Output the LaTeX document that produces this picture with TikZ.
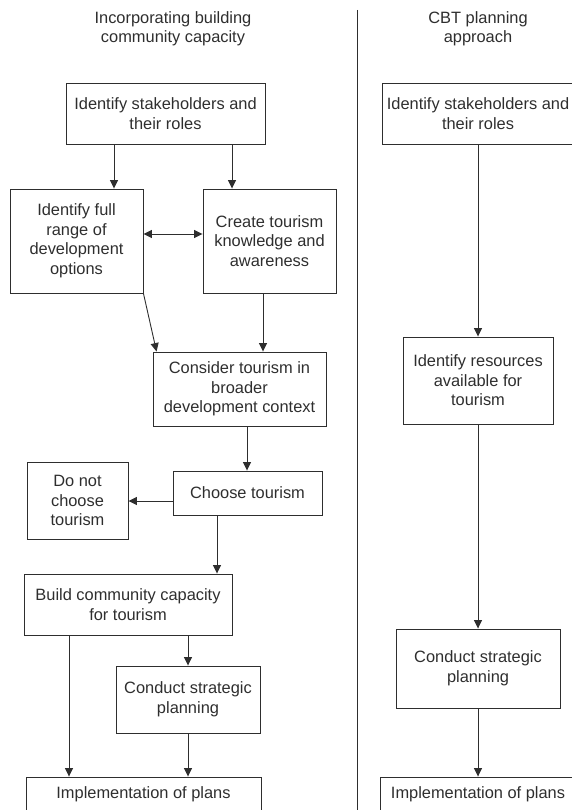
\documentclass[tikz,border=0pt]{standalone}
\usepackage{fontspec}
\setmainfont{Liberation Sans}
\usetikzlibrary{arrows.meta}
\definecolor{ink}{gray}{0.18}
\begin{document}
\begin{tikzpicture}[x=1pt,y=-1pt,
  box/.style={draw=ink, line width=0.9pt, rectangle, inner sep=0pt, align=center,
    text=ink, font=\fontsize{16.4}{19.5}\selectfont},
  ttl/.style={align=center, text=ink, font=\fontsize{16.4}{19.5}\selectfont, inner sep=0pt},
  arr/.style={draw=ink, line width=0.9pt, -{Triangle[length=8.5pt,width=8pt]}},
  arrtwo/.style={draw=ink, line width=0.9pt, {Triangle[length=8.5pt,width=8pt]}-{Triangle[length=8.5pt,width=8pt]}},
  divline/.style={draw=ink, line width=0.8pt}]
\useasboundingbox (0,0) rectangle (572,810);
\clip (0,0) rectangle (572,810);
% titles
\node[ttl] (tl) at (173,29) {Incorporating building\\community capacity};
\node[ttl] (tr) at (478,29) {CBT planning\\approach};
% divider
\coordinate (dt) at (357,10);
\coordinate (db) at (357,815);
\draw[divline] (dt) -- (db);
% left column
\node[box, minimum width=199pt, minimum height=61pt] (A) at (165.5,113.5) {Identify stakeholders and\\their roles};
\node[box, minimum width=133pt, minimum height=104pt] (B) at (76.5,241) {Identify full\\range of\\development\\options};
\node[box, minimum width=133pt, minimum height=104pt] (C) at (269.5,241) {Create tourism\\knowledge and\\awareness};
\node[box, minimum width=173pt, minimum height=74pt] (D) at (239.5,389) {Consider tourism in\\broader\\development context};
\node[box, minimum width=149pt, minimum height=44pt] (E) at (247.5,493) {Choose tourism};
\node[box, minimum width=101pt, minimum height=77pt] (F) at (77.5,500.5) {Do not\\choose\\tourism};
\node[box, minimum width=208pt, minimum height=61pt] (G) at (128,604.5) {Build community capacity\\for tourism};
\node[box, minimum width=144pt, minimum height=67pt] (H) at (188,699.5) {Conduct strategic\\planning};
\node[box, minimum width=235pt, minimum height=34pt] (I) at (143.5,794) {Implementation of plans};
% right column
\node[box, minimum width=192pt, minimum height=61pt] (R1) at (478,113.5) {Identify stakeholders and\\their roles};
\node[box, minimum width=150pt, minimum height=87pt] (R2) at (478,380.5) {Identify resources\\available for\\tourism};
\node[box, minimum width=164pt, minimum height=79pt] (R3) at (478,668.5) {Conduct strategic\\planning};
\node[box, minimum width=196pt, minimum height=34pt] (R4) at (478,794) {Implementation of plans};
% left connectors
\draw[arr] ([xshift=-51.5pt]A.south) -- ([xshift=-51.5pt]A.south |- B.north);
\draw[arr] ([xshift=66.5pt]A.south) -- ([xshift=66.5pt]A.south |- C.north);
\draw[arrtwo] ([yshift=7pt]B.east) -- ([yshift=7pt]B.east -| C.west);
\draw[arr] (B.south east) -- ([xshift=4pt]D.north west);
\draw[arr] ([xshift=-6.5pt]C.south) -- ([xshift=-6.5pt]C.south |- D.north);
\draw[arr] ([xshift=7.5pt]D.south) -- ([xshift=7.5pt]D.south |- E.north);
\draw[arr] ([yshift=-8pt]E.west) -- ([yshift=-8pt]E.west -| F.east);
\draw[arr] ([xshift=-30.5pt]E.south) -- ([xshift=-30.5pt]E.south |- G.north);
\draw[arr] (G.south -| H.north) -- (H.north);
\draw[arr] ([xshift=-59pt]G.south) -- ([xshift=-59pt]G.south |- I.north);
\draw[arr] (H.south) -- (H.south |- I.north);
% right connectors
\draw[arr] (R1.south) -- (R2.north);
\draw[arr] (R2.south) -- (R3.north);
\draw[arr] (R3.south) -- (R4.north);
\end{tikzpicture}
\end{document}
